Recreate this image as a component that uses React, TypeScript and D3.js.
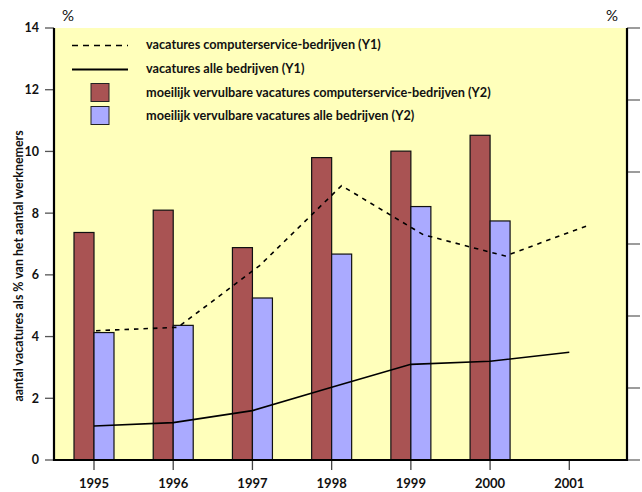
import React from "react";
import * as d3 from "d3";

const years = [1995, 1996, 1997, 1998, 1999, 2000, 2001];
const barYears = [1995, 1996, 1997, 1998, 1999, 2000];
const hardToFillComputer = [31.6, 34.7, 29.5, 42.0, 42.9, 45.1];
const hardToFillAll = [17.7, 18.7, 22.5, 28.6, 35.2, 33.2];
const vacComputer = [4.19, 4.3, 6.3, 8.89, 7.3, 6.61, 7.59];
const vacAll = [1.1, 1.21, 1.6, 2.36, 3.1, 3.2, 3.49];
const y1Ticks = [0, 2, 4, 6, 8, 10, 12, 14];
const y2Ticks = [0, 10, 20, 30, 40, 50, 60];
const legendLabels = [
  "vacatures computerservice-bedrijven (Y1)",
  "vacatures alle bedrijven (Y1)",
  "moeilijk vervulbare vacatures computerservice-bedrijven (Y2)",
  "moeilijk vervulbare vacatures alle bedrijven (Y2)",
];
const yTitle = "aantal vacatures als % van het aantal werknemers";

const W = 642, H = 492;
const L = 54, R = 627, T = 28, B = 460;
const RED = "#A95353";
const BLUE = "#AAAAFF";
const BG = "#FFFFBB";
const FONT = "Lato, 'DejaVu Sans', sans-serif";

export default function App() {
  const x = d3.scaleLinear().domain([1995, 2001]).range([94, 569.3]);
  const xDash = d3.scaleLinear().domain([1995, 2001]).range([96, 587]);
  const y1 = d3.scaleLinear().domain([0, 14]).range([B, T]);
  const y2 = d3.scaleLinear().domain([0, 60]).range([B, T]);
  const bw = 20;

  const dashLine = d3
    .line<number>()
    .x((_, i) => xDash(years[i]))
    .y((d) => y1(d))(vacComputer) as string;
  const solidLine = d3
    .line<number>()
    .x((_, i) => x(years[i]))
    .y((d) => y1(d))(vacAll) as string;

  return (
    <svg
      width={W}
      height={H}
      style={{ position: "absolute", left: 0, top: 0, background: "#fff" }}
      fontFamily={FONT}
    >
      <rect x={L} y={T} width={R - L} height={B - T} fill={BG} />

      {barYears.map((yr, i) => (
        <g key={yr}>
          <rect
            x={x(yr) - bw}
            y={y2(hardToFillComputer[i])}
            width={bw}
            height={B - y2(hardToFillComputer[i])}
            fill={RED}
            stroke="#111"
            strokeWidth={1.2}
          />
          <rect
            x={x(yr)}
            y={y2(hardToFillAll[i])}
            width={bw}
            height={B - y2(hardToFillAll[i])}
            fill={BLUE}
            stroke="#111"
            strokeWidth={1.2}
          />
        </g>
      ))}

      <path d={dashLine} fill="none" stroke="#000" strokeWidth={1.6} strokeDasharray="4.5,5" />
      <path d={solidLine} fill="none" stroke="#000" strokeWidth={1.6} />

      <g fontSize={12.7} fontWeight={700} fill="#111">
        <line x1={72} x2={128} y1={45.5} y2={45.5} stroke="#000" strokeWidth={1.6} strokeDasharray="6,5" />
        <line x1={72} x2={128} y1={69.5} y2={69.5} stroke="#000" strokeWidth={1.8} />
        <rect x={91} y={83.5} width={18} height={18} fill={RED} stroke="#222" strokeWidth={1} />
        <rect x={91} y={106.5} width={18} height={18} fill={BLUE} stroke="#222" strokeWidth={1} />
        {legendLabels.map((t, i) => (
          <text key={t} x={146} y={[45, 69, 93, 116][i]} dy="0.35em">
            {t}
          </text>
        ))}
      </g>

      {y1Ticks.map((t) => (
        <g key={t}>
          <line x1={45} x2={L} y1={y1(t)} y2={y1(t)} stroke="#555" strokeWidth={1.3} />
          <text x={39} y={y1(t)} dy="0.35em" textAnchor="end" fontSize={12.5} fontWeight={700} fill="#111">
            {t}
          </text>
        </g>
      ))}
      {y2Ticks.map((t) => (
        <line key={t} x1={R} x2={640} y1={y2(t)} y2={y2(t)} stroke="#666" strokeWidth={1.3} />
      ))}
      {years.map((yr) => (
        <g key={yr}>
          <line x1={x(yr)} x2={x(yr)} y1={B} y2={470} stroke="#444" strokeWidth={1.3} />
          <text x={x(yr)} y={488} textAnchor="middle" fontSize={13} fontWeight={700} fill="#111">
            {yr}
          </text>
        </g>
      ))}

      <line x1={L} x2={L} y1={T} y2={B + 1} stroke="#000" strokeWidth={2.2} />
      <line x1={R} x2={R} y1={T} y2={B + 1} stroke="#000" strokeWidth={2.2} />
      <line x1={L - 1} x2={R + 1} y1={B} y2={B} stroke="#000" strokeWidth={2.2} />

      <text x={68} y={21} textAnchor="middle" fontSize={15} fill="#111">%</text>
      <text x={612} y={21} textAnchor="middle" fontSize={15} fill="#111">%</text>

      <text
        transform={`translate(19, ${(T + B) / 2 + 22}) rotate(-90)`}
        textAnchor="middle"
        dy="0.35em"
        fontSize={12.4}
        fontWeight={700}
        fill="#111"
      >
        {yTitle}
      </text>
    </svg>
  );
}
